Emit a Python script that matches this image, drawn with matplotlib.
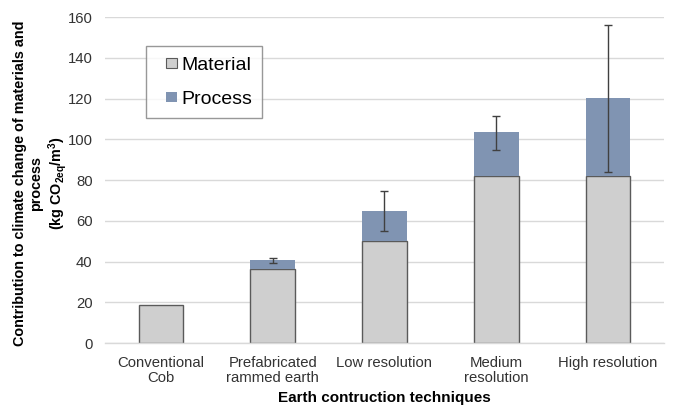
import matplotlib.pyplot as plt
from matplotlib.patches import Patch, Rectangle
from matplotlib.legend_handler import HandlerPatch
import numpy as np

plt.rcParams['font.family'] = ['Liberation Sans', 'DejaVu Sans']
plt.rcParams['mathtext.fontset'] = 'custom'
plt.rcParams['mathtext.rm'] = 'Liberation Sans'
plt.rcParams['mathtext.bf'] = 'Liberation Sans:bold'

categories = ["Conventional\nCob", "Prefabricated\nrammed earth", "Low resolution",
              "Medium\nresolution", "High resolution"]
material = [18.5, 36.2, 50.3, 82.0, 82.0]
process = [0.0, 4.4, 14.7, 21.5, 38.2]
err_low = [0.0, 1.3, 10.2, 8.6, 36.4]
err_high = [0.0, 1.3, 9.8, 7.9, 35.9]

mat_color = "#cfcfcf"
proc_color = "#8094b2"
edge_color = "#5a5a5a"


class SquareHandler(HandlerPatch):
    """Small square legend key placed at the right of its handle box."""
    def create_artists(self, legend, orig_handle, xdescent, ydescent,
                       width, height, fontsize, trans):
        s = 0.55 * fontsize
        p = Rectangle((width - s - xdescent, (height - s) / 2 - ydescent), s, s)
        self.update_prop(p, orig_handle, legend)
        p.set_transform(trans)
        return [p]


fig = plt.figure(figsize=(6.75, 4.07), dpi=100)
ax = fig.add_axes([0.1556, 0.157, 0.828, 0.801])

x = np.arange(len(categories))
w = 0.4
ax.bar(x, material, w, color=mat_color, edgecolor=edge_color, linewidth=1.0, zorder=2)
totals = np.array(material) + np.array(process)
proc_mask = np.array(process) > 0
ax.bar(x[proc_mask], np.array(process)[proc_mask], w, bottom=np.array(material)[proc_mask],
       color=proc_color, edgecolor='none', zorder=2)
ax.errorbar(x[proc_mask], totals[proc_mask],
            yerr=[np.array(err_low)[proc_mask], np.array(err_high)[proc_mask]],
            fmt='none', ecolor="#404040", elinewidth=1.0, capsize=3, capthick=1.0, zorder=3)

ax.set_xlim(-0.5, len(categories) - 0.5)
ax.set_ylim(0, 160)
ax.set_yticks(np.arange(0, 161, 20))
ax.yaxis.grid(True, color="#d9d9d9", linewidth=1.0, zorder=0)
ax.set_axisbelow(True)
for s in ['top', 'right', 'left']:
    ax.spines[s].set_visible(False)
ax.spines['bottom'].set_color("#d9d9d9")
ax.spines['bottom'].set_linewidth(1.0)
ax.tick_params(axis='both', length=0, labelsize=10.7, colors="#333333")
ax.tick_params(axis='x', pad=9.5)
ax.tick_params(axis='y', pad=9)
ax.set_xticks(x)
ax.set_xticklabels(categories, linespacing=1.1)

ax.set_xlabel("Earth contruction techniques", fontsize=11, fontweight='bold')
ax.xaxis.set_label_coords(0.5, -0.147)
ax.set_ylabel("Contribution to climate change of materials and\nprocess\n"
              r"(kg CO$_{\mathbf{2eq}}$/m$^{\mathbf{3}}$)",
              fontsize=10.4, fontweight='bold', linespacing=1.2)
ax.yaxis.set_label_coords(-0.064, 0.49)

handles = [Patch(facecolor=mat_color, edgecolor=edge_color, linewidth=0.8, label="Material"),
           Patch(facecolor=proc_color, edgecolor='none', label="Process")]
leg = ax.legend(handles=handles, loc='upper left', bbox_to_anchor=(0.074, 0.91),
                handler_map={Patch: SquareHandler()},
                fontsize=14, frameon=True, fancybox=False, handlelength=1.05,
                handleheight=0.7, handletextpad=0.25, labelspacing=0.85,
                borderpad=0.5, borderaxespad=0)
leg.get_frame().set_edgecolor("#7f7f7f")
leg.get_frame().set_linewidth(1.0)

fig.savefig("out.png", dpi=100)
